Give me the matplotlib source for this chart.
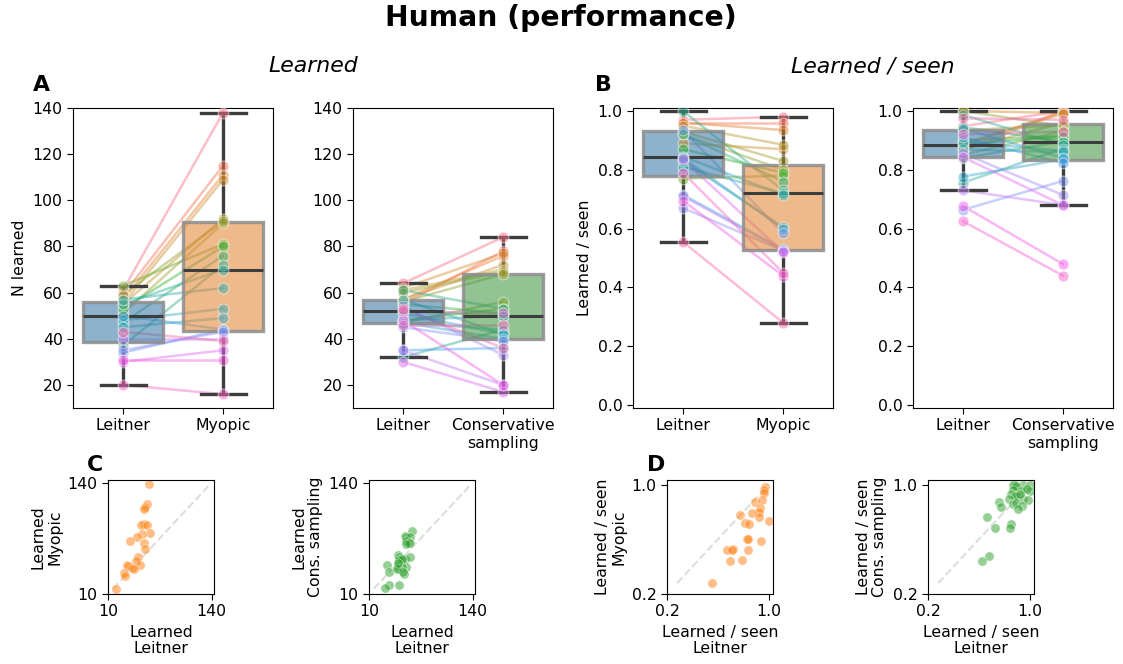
import matplotlib
matplotlib.use("Agg")
import matplotlib.pyplot as plt
import seaborn as sns
from matplotlib.colors import to_rgba

plt.rcParams['font.size'] = 11.3
plt.rcParams['xtick.major.size'] = 4
plt.rcParams['ytick.major.size'] = 4

# Leitner vs Myopic (one entry per participant)
myo_leitner_n = [61, 59, 57, 55, 55, 51, 59, 63, 53, 47, 37, 55, 57, 48, 45, 50, 34, 35, 40, 30, 31, 20, 43]
myo_myopic_n = [138, 115, 111, 109, 92, 90, 91, 81, 80, 76, 72, 70, 62, 53, 49, 44, 44, 43, 40, 35, 31, 16, 39]
myo_leitner_ratio = [0.97, 0.96, 0.96, 0.89, 0.95, 0.93, 0.92, 0.77, 0.87, 0.92, 1.0, 0.81,
                     0.845, 0.83, 0.84, 0.715, 0.935, 0.67, 0.71, 0.835, 0.695, 0.79, 0.555]
myo_myopic_ratio = [0.98, 0.96, 0.935, 0.87, 0.885, 0.83, 0.80, 0.78, 0.79, 0.76, 0.73, 0.72,
                    0.715, 0.605, 0.60, 0.53, 0.585, 0.525, 0.525, 0.52, 0.44, 0.45, 0.28]

# Leitner vs Conservative sampling
cons_leitner_n = [64, 55, 57, 62, 57, 61, 60, 56, 47, 48, 55, 52, 61, 32, 48, 47, 57, 51, 47, 35,
                  45, 54, 35, 30, 48, 52, 46, 53]
cons_cons_n = [84, 78, 76, 77, 72, 70, 69, 68, 56, 53, 51, 50, 53, 44, 50, 44, 42, 42, 40, 36,
               39, 33, 20, 17, 20, 51, 46, 36]
cons_leitner_ratio = [0.948, 0.88, 0.866, 1.0, 0.89, 0.934, 0.869, 1.0, 0.85, 0.9, 0.887, 0.84,
                      0.945, 0.987, 0.756, 0.869, 0.895, 0.777, 0.94, 0.91, 0.664, 0.856, 0.73,
                      0.843, 0.677, 0.625, 0.92, 0.975]
cons_cons_ratio = [1.0, 1.0, 0.998, 0.993, 0.99, 0.952, 0.96, 0.949, 0.932, 0.915, 0.913, 0.896,
                   0.896, 0.884, 0.872, 0.86, 0.864, 0.835, 0.84, 0.823, 0.762, 0.714, 0.68,
                   0.68, 0.479, 0.44, 0.93, 0.97]

W, H = 1123, 664
fig = plt.figure(figsize=(W / 100, H / 100), dpi=100)


def px_axes(left, top, width, height):
    return fig.add_axes([left / W, 1 - (top + height) / H, width / W, height / H])


dark = '#3d3d3d'


def box_panel(ax, a, b, col_b, labels):
    bp = ax.boxplot([a, b], positions=[0, 1], widths=0.8, patch_artist=True,
                    showfliers=False, whis=1.5, capwidths=0.45,
                    medianprops=dict(color=dark, lw=2.2),
                    whiskerprops=dict(color=dark, lw=2.4),
                    capprops=dict(color=dark, lw=2.4),
                    boxprops=dict(lw=2.4))
    for patch, c in zip(bp['boxes'], ['C0', col_b]):
        patch.set_facecolor(to_rgba(sns.desaturate(c, 0.75), 0.55))
        patch.set_edgecolor((0.55, 0.55, 0.55, 0.85))
        patch.set_zorder(2)
    for key in ('whiskers', 'caps', 'medians'):
        for ln in bp[key]:
            ln.set_zorder(3)
    pal = sns.color_palette("husl", len(a))
    for i in range(len(a)):
        ax.plot([0, 1], [a[i], b[i]], color=pal[i], alpha=0.45, lw=1.8, zorder=1)
        ax.scatter([0, 1], [a[i], b[i]], color=pal[i], alpha=0.5, edgecolor='white',
                   linewidth=0.8, s=60, zorder=4)
    ax.set_xlim(-0.5, 1.5)
    ax.set_xticks([0, 1])
    ax.set_xticklabels(labels)


def scatter_panel(ax, x, y, col, lims, diag, ticks, xlab, ylab):
    ax.plot(diag, diag, ls='--', color='#dddddd', lw=1.5, zorder=1)
    ax.scatter(x, y, color=col, alpha=0.5, edgecolor='white', linewidth=0.6, s=45, zorder=2)
    ax.set_xlim(*lims)
    ax.set_ylim(*lims)
    ax.set_xticks(ticks)
    ax.set_yticks(ticks)
    ax.set_xlabel(xlab, linespacing=1.1)
    ax.set_ylabel(ylab, linespacing=1.1)


lab_myo = ['Leitner', 'Myopic']
lab_cons = ['Leitner', 'Conservative\nsampling']

ax1 = px_axes(73, 108, 200, 300)
box_panel(ax1, myo_leitner_n, myo_myopic_n, 'C1', lab_myo)
ax1.set_ylim(10, 140)
ax1.set_yticks(range(20, 141, 20))
ax1.set_ylabel('N learned')

ax2 = px_axes(353, 108, 200, 300)
box_panel(ax2, cons_leitner_n, cons_cons_n, 'C2', lab_cons)
ax2.set_ylim(10, 140)
ax2.set_yticks(range(20, 141, 20))

ratio_ticks = [0.0, 0.2, 0.4, 0.6, 0.8, 1.0]
ax3 = px_axes(633, 108, 200, 300)
box_panel(ax3, myo_leitner_ratio, myo_myopic_ratio, 'C1', lab_myo)
ax3.set_ylim(-0.01, 1.01)
ax3.set_yticks(ratio_ticks)
ax3.set_yticklabels([f'{t:.1f}' for t in ratio_ticks])
ax3.set_ylabel('Learned / seen')

ax4 = px_axes(913, 108, 200, 300)
box_panel(ax4, cons_leitner_ratio, cons_cons_ratio, 'C2', lab_cons)
ax4.set_ylim(-0.01, 1.01)
ax4.set_yticks(ratio_ticks)
ax4.set_yticklabels([f'{t:.1f}' for t in ratio_ticks])

all_n = myo_leitner_n + myo_myopic_n + cons_leitner_n + cons_cons_n
all_r = myo_leitner_ratio + myo_myopic_ratio + cons_leitner_ratio + cons_cons_ratio
diag_n = [min(all_n), max(all_n)]
diag_r = [min(all_r), max(all_r)]

sc1 = px_axes(108, 480, 106, 114)
scatter_panel(sc1, myo_leitner_n, myo_myopic_n, 'C1', (10, 143), diag_n, [10, 140],
              'Learned\nLeitner', 'Learned\nMyopic')
sc2 = px_axes(369, 480, 106, 114)
scatter_panel(sc2, cons_leitner_n, cons_cons_n, 'C2', (10, 143), diag_n, [10, 140],
              'Learned\nLeitner', 'Learned\nCons. sampling')
sc3 = px_axes(667, 480, 106, 114)
scatter_panel(sc3, myo_leitner_ratio, myo_myopic_ratio, 'C1', (0.2, 1.033), diag_r, [0.2, 1.0],
              'Learned / seen\nLeitner', 'Learned / seen\nMyopic')
sc4 = px_axes(928, 480, 106, 114)
scatter_panel(sc4, cons_leitner_ratio, cons_cons_ratio, 'C2', (0.2, 1.033), diag_r, [0.2, 1.0],
              'Learned / seen\nLeitner', 'Learned / seen\nCons. sampling')
for sc in (sc3, sc4):
    sc.set_xticklabels(['0.2', '1.0'])
    sc.set_yticklabels(['0.2', '1.0'])

fig.text(561 / W, 1 - 18 / H, 'Human (performance)', ha='center', va='center',
         fontsize=20.3, fontweight='bold')
fig.text(313 / W, 1 - 66 / H, 'Learned', ha='center', va='center', fontsize=15.8, style='italic')
fig.text(873 / W, 1 - 66 / H, 'Learned / seen', ha='center', va='center', fontsize=15.8, style='italic')
for letter, x, y in [('A', 33, 85), ('B', 595, 85), ('C', 87, 465), ('D', 647, 465)]:
    fig.text(x / W, 1 - y / H, letter, ha='left', va='center', fontsize=15.8, fontweight='bold')

fig.savefig('out.png', dpi=100)
